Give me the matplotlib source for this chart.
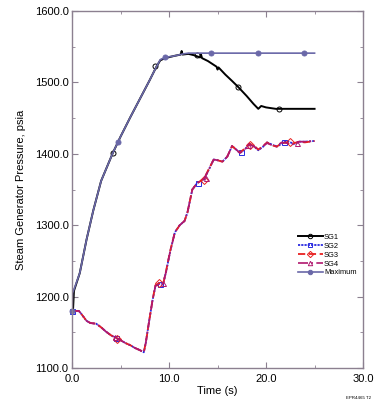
import numpy as np
import matplotlib
matplotlib.use("Agg")
import matplotlib.pyplot as plt
from matplotlib.lines import Line2D
from matplotlib.legend_handler import HandlerLine2D

plt.rcParams['font.family'] = ['Liberation Sans', 'DejaVu Sans']

# ---- data ----
t_max = [0.0, 0.05, 0.2, 0.8, 1.5, 2.2, 3.0, 4.2, 5.0, 6.0, 7.0, 8.0, 8.7, 9.1, 9.6,
         10.5, 11.5, 12.0, 25.0]
p_max = [1180, 1205, 1210, 1233, 1280, 1321, 1362, 1401, 1424, 1451, 1477, 1503, 1522,
         1532, 1535, 1537, 1540, 1541, 1541]

t_sg1 = [0.0, 0.1, 0.2, 0.8, 1.5, 2.2, 3.0, 4.2, 5.0, 6.0, 7.0, 8.0, 8.7, 9.1, 9.6,
         10.5, 11.2, 11.3, 11.4, 12.0, 12.6, 13.2, 13.3, 13.4, 14.0, 14.9, 15.0, 15.1,
         15.8, 16.5, 17.1, 18.0, 18.7, 19.2, 19.5, 20.0, 21.0, 25.0]
p_sg1 = [1180, 1180, 1208, 1233, 1280, 1321, 1362, 1401, 1424, 1451, 1477, 1503, 1522,
         1531, 1534, 1537, 1539, 1544, 1539, 1540, 1538, 1535, 1539, 1534, 1530, 1522,
         1518, 1521, 1511, 1502, 1494, 1481, 1470, 1463, 1467, 1465, 1463, 1463]

t_low = [0.0, 0.7, 1.0, 1.5, 1.9, 2.5, 3.0, 3.5, 4.0, 4.4, 5.0, 5.5, 6.0, 6.5, 7.0,
         7.4, 7.6, 8.0, 8.3, 8.6, 9.0, 9.4, 9.7, 10.1, 10.6, 11.1, 11.6, 11.9, 12.4,
         12.9, 13.6, 14.0, 14.6, 15.0, 15.5, 16.0, 16.5, 17.0, 17.3, 17.8, 18.3, 18.8,
         19.2, 19.7, 20.1, 20.6, 21.1, 21.6, 22.1, 22.5, 22.9, 23.4, 24.0, 25.0]
p_sg2 = [1180, 1180, 1175, 1166, 1163, 1162, 1157, 1151, 1146, 1143, 1139, 1135, 1132,
         1128, 1125, 1122, 1135, 1170, 1195, 1215, 1218, 1218, 1235, 1262, 1290, 1300,
         1306, 1318, 1350, 1359, 1364, 1375, 1392, 1391, 1389, 1396, 1411, 1405, 1401,
         1406, 1414, 1410, 1405, 1410, 1416, 1413, 1410, 1414, 1418, 1416, 1414, 1417,
         1417, 1418]
p_sg3 = [1180, 1180, 1175, 1166, 1163, 1162, 1157, 1151, 1146, 1143, 1139, 1135, 1132,
         1128, 1125, 1122, 1135, 1170, 1195, 1216, 1219, 1218, 1236, 1263, 1290, 1300,
         1306, 1318, 1350, 1359, 1365, 1376, 1392, 1391, 1389, 1396, 1411, 1405, 1402,
         1407, 1414, 1411, 1406, 1411, 1416, 1412, 1410, 1415, 1416, 1413, 1415, 1417,
         1416, 1418]
p_sg4 = [1180, 1180, 1175, 1166, 1163, 1162, 1157, 1151, 1146, 1143, 1139, 1135, 1132,
         1128, 1125, 1122, 1135, 1170, 1195, 1215, 1218, 1219, 1235, 1262, 1290, 1300,
         1306, 1318, 1350, 1359, 1365, 1375, 1392, 1391, 1389, 1396, 1411, 1405, 1401,
         1406, 1413, 1410, 1405, 1411, 1415, 1412, 1411, 1416, 1415, 1414, 1413, 1417,
         1417, 1418]

# marker positions
mk_sg1 = ([4.2, 8.6, 12.9, 17.1, 21.3], [1401, 1523, 1538, 1494, 1463])
mk_sg2 = ([0.0, 4.5, 9.1, 13.0, 17.4, 21.8], [1180, 1142, 1218, 1359, 1402, 1416])
mk_sg3 = ([4.6, 9.0, 13.6, 18.3, 22.5], [1141, 1219, 1364, 1413, 1416])
mk_sg4 = ([4.4, 9.4, 13.8, 18.1, 23.2], [1143, 1219, 1366, 1413, 1415])
mk_max = ([0.0, 4.7, 9.6, 14.3, 19.2, 23.9], [1180, 1416, 1535, 1541, 1541, 1541])


class EndMarker(HandlerLine2D):
    # marker at the right end of the legend line
    def get_xdata(self, legend, xdescent, ydescent, width, height, fontsize):
        xdata, _ = super().get_xdata(legend, xdescent, ydescent, width, height, fontsize)
        return xdata, np.array([xdata[-1]])


fig = plt.figure(figsize=(3.83, 4.08), dpi=100)
ax = fig.add_axes([0.188, 0.098, 0.760, 0.875])

series = [
    ("SG1", t_sg1, p_sg1, mk_sg1, dict(color='black', ls='-', lw=1.4), dict(marker='o', mfc='none')),
    ("SG2", t_low, p_sg2, mk_sg2, dict(color='#2a2ae0', ls=(0, (1.2, 0.6)), lw=1.3), dict(marker='s', mfc='none')),
    ("SG3", t_low, p_sg3, mk_sg3, dict(color='#e82020', ls=(0, (4, 2)), lw=1.3), dict(marker='D', mfc='none')),
    ("SG4", t_low, p_sg4, mk_sg4, dict(color='#b0186e', ls=(0, (6, 2, 1, 2)), lw=1.2), dict(marker='^', mfc='none')),
    ("Maximum", t_max, p_max, mk_max, dict(color='#6a68a8', ls='-', lw=1.2), dict(marker='o', mfc='#6a68a8')),
]

handles = []
for name, t, p, mk, lst, mst in series:
    ax.plot(t, p, **lst)
    ax.plot(mk[0], mk[1], ls='none', color=lst['color'], mec=lst['color'], ms=3.6,
            mew=0.7, clip_on=False, **mst)
    handles.append(Line2D([], [], color=lst['color'], ls=lst['ls'], lw=lst['lw'],
                          mec=lst['color'], ms=3.2, mew=0.7, label=name, **mst))

ax.set_xlim(0, 30)
ax.set_ylim(1100, 1600)
ax.set_xticks([0, 10, 20, 30])
ax.set_xticks([5, 15, 25], minor=True)
ax.set_yticks(np.arange(1100, 1601, 100))
ax.set_yticks(np.arange(1150, 1600, 100), minor=True)
ax.set_xticklabels(["0.0", "10.0", "20.0", "30.0"])
ax.set_yticklabels(["%.1f" % v for v in np.arange(1100, 1601, 100)])

frame_col = '#8c8090'
for s in ax.spines.values():
    s.set_color(frame_col)
    s.set_linewidth(1.0)
ax.tick_params(which='both', direction='in', top=True, right=True, color=frame_col,
               labelsize=8)
ax.tick_params(axis='y', pad=2.5)
ax.tick_params(axis='x', pad=4)
ax.tick_params(which='major', length=4)
ax.tick_params(which='minor', length=2.5)

ax.set_xlabel("Time (s)", fontsize=8, labelpad=2)
ax.set_ylabel("Steam Generator Pressure, psia", fontsize=8, labelpad=6)

ax.legend(handles=handles, handler_map={Line2D: EndMarker()}, numpoints=1,
          loc='upper left', bbox_to_anchor=(0.765, 0.385), frameon=False,
          fontsize=5.4, handlelength=3.4, handletextpad=0.1, labelspacing=0.22,
          borderaxespad=0)

fig.text(0.935, 0.025, "EPR4465 T2", fontsize=3.2, ha='center', va='center')

fig.savefig("out.png", dpi=100)
